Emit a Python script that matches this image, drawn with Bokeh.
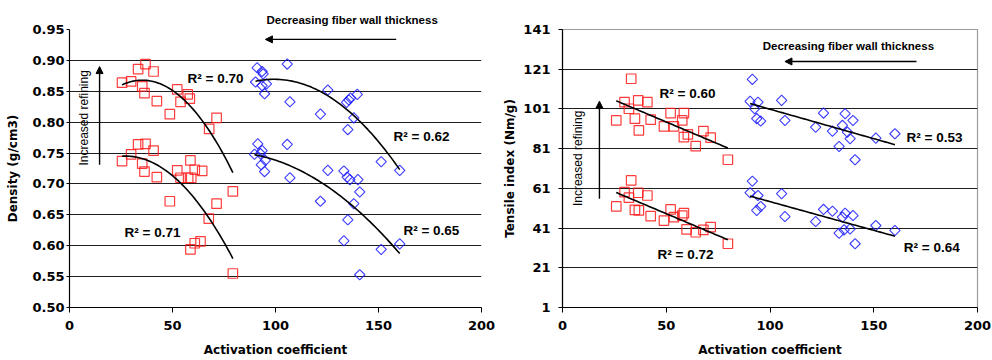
import numpy as np
from bokeh.plotting import figure
from bokeh.layouts import row
from bokeh.models import FixedTicker, PrintfTickFormatter, Label, Arrow, NormalHead, Title
from bokeh.embed import file_html
from bokeh.resources import INLINE

# ---------------- Left chart: density vs activation coefficient ----------------
dens_red_hi_x = [25.5, 29.9, 33.3, 36.9, 40.8, 35.3, 36.4, 42.4, 52.3, 53.9, 57.4, 58.4, 48.7, 67.8, 71.4, 79.3]
dens_red_hi_y = [0.864, 0.866, 0.886, 0.894, 0.882, 0.858, 0.847, 0.834, 0.853, 0.833, 0.845, 0.838, 0.813, 0.789, 0.807, 0.688]
dens_red_lo_x = [25.5, 29.9, 33.3, 36.9, 40.8, 35.3, 36.4, 42.4, 52.3, 58.7, 60.8, 64.4, 53.9, 57.6, 59.1,
                 48.7, 71.4, 67.6, 58.7, 60.8, 63.6, 79.3]
dens_red_lo_y = [0.737, 0.748, 0.764, 0.765, 0.754, 0.733, 0.720, 0.711, 0.722, 0.738, 0.723, 0.721, 0.710, 0.710, 0.710,
                 0.672, 0.668, 0.644, 0.594, 0.604, 0.607, 0.555]
dens_blue_hi_x = [91.1, 93.5, 94.0, 90.3, 93.5, 95.6, 94.7, 105.7, 107.0, 125.4, 121.8, 134.5, 135.6, 136.4, 139.7,
                  138.0, 135.1, 151.3, 160.3]
dens_blue_hi_y = [0.888, 0.882, 0.878, 0.865, 0.859, 0.862, 0.846, 0.894, 0.833, 0.852, 0.813, 0.832, 0.836, 0.839, 0.845,
                  0.807, 0.788, 0.736, 0.722]
dens_blue_lo_x = [91.4, 89.8, 105.7, 93.5, 92.7, 95.1, 93.1, 94.7, 107.0, 125.4, 133.2, 134.8, 136.1, 140.0, 140.9,
                  138.0, 121.8, 135.1, 133.2, 151.3, 160.3, 140.9]
dens_blue_lo_y = [0.765, 0.748, 0.764, 0.754, 0.749, 0.738, 0.731, 0.720, 0.710, 0.722, 0.721, 0.711, 0.707, 0.707, 0.687,
                  0.668, 0.672, 0.642, 0.608, 0.594, 0.603, 0.553]
dens_r2 = ["R\u00b2 = 0.70", "R\u00b2 = 0.71", "R\u00b2 = 0.62", "R\u00b2 = 0.65"]
dens_yticks = [0.50, 0.55, 0.60, 0.65, 0.70, 0.75, 0.80, 0.85, 0.90, 0.95]
xticks = [0, 50, 100, 150, 200]

# ---------------- Right chart: tensile index vs activation coefficient ----------------
ten_red_hi_x = [33.1, 29.9, 32.0, 36.5, 40.9, 25.9, 34.9, 36.8, 42.5, 48.9, 52.1, 53.7, 58.5, 57.7, 58.5, 60.4, 64.2, 67.9, 71.4, 79.7]
ten_red_hi_y = [116.2, 104.4, 101.1, 105.3, 104.4, 95.2, 96.1, 90.2, 95.6, 92.2, 98.9, 92.2, 98.9, 95.2, 86.8, 88.2, 82.3, 89.8, 86.5, 75.4]
ten_red_lo_x = [33.1, 29.9, 32.0, 36.5, 40.9, 25.9, 34.9, 36.8, 42.5, 48.9, 52.1, 53.7, 58.5, 57.7, 59.8, 64.2, 67.9, 71.4, 79.7]
ten_red_lo_y = [65.0, 59.1, 56.3, 58.8, 57.4, 51.9, 50.2, 49.9, 47.0, 44.8, 50.4, 46.5, 48.5, 47.3, 40.3, 38.9, 40.1, 41.5, 33.1]
ten_blue_hi_x = [91.5, 90.4, 94.2, 92.6, 93.6, 95.5, 105.6, 107.2, 125.8, 122.0, 130.1, 136.2, 134.9, 140.0, 137.3, 138.6, 133.3, 141.0, 151.0, 160.2]
ten_blue_hi_y = [115.9, 104.8, 104.4, 101.1, 96.1, 94.9, 105.3, 95.2, 98.9, 91.8, 89.8, 98.6, 92.7, 95.2, 89.3, 86.0, 82.1, 75.4, 86.3, 88.5]
ten_blue_lo_x = [91.5, 90.4, 94.2, 95.5, 93.6, 105.6, 107.2, 125.8, 122.0, 130.1, 136.2, 134.9, 140.0, 138.6, 135.7, 133.3, 141.0, 151.0, 160.2]
ten_blue_lo_y = [64.6, 58.8, 57.4, 51.9, 49.9, 58.3, 46.8, 50.4, 44.3, 49.5, 48.5, 46.5, 47.3, 40.6, 40.1, 38.4, 33.1, 42.3, 39.8]
ten_r2 = ["R\u00b2 = 0.60", "R\u00b2 = 0.72", "R\u00b2 = 0.53", "R\u00b2 = 0.64"]
ten_yticks = [1, 21, 41, 61, 81, 101, 121, 141]

RED = "#ff1a1a"
BLUE = "#1a1aff"
TICK_FONT = "DejaVu Sans"
LAB_FONT = "Liberation Sans"
NOTE = "Decreasing fiber wall thickness"


def style(p, yticks, ylabel, fmt, ytick_out, ystandoff, ylabel_standoff):
    p.xaxis.ticker = FixedTicker(ticks=xticks)
    p.yaxis.ticker = FixedTicker(ticks=yticks)
    p.ygrid.ticker = FixedTicker(ticks=yticks)
    p.yaxis.formatter = PrintfTickFormatter(format=fmt)
    p.xgrid.grid_line_color = None
    p.ygrid.grid_line_color = "#1e1e1e"
    p.ygrid.grid_line_width = 1
    for ax in (p.xaxis, p.yaxis):
        ax.axis_line_color = "black"
        ax.axis_line_width = 1.2
        ax.major_tick_line_color = "black"
        ax.major_tick_in = 0
        ax.minor_tick_line_color = None
        ax.major_label_text_font = TICK_FONT
        ax.major_label_text_font_style = "bold"
        ax.major_label_text_font_size = "13px"
        ax.major_label_text_color = "black"
        ax.axis_label_text_font = TICK_FONT
        ax.axis_label_text_font_style = "bold"
        ax.axis_label_text_font_size = "12px"
        ax.axis_label_text_color = "black"
    p.xaxis.axis_label = "Activation coefficient"
    p.yaxis.axis_label = ylabel
    p.xaxis.major_tick_out = 5
    p.xaxis.major_label_standoff = 8
    p.xaxis.axis_label_standoff = 10
    p.yaxis.major_tick_out = ytick_out
    p.yaxis.major_label_standoff = ystandoff
    p.yaxis.axis_label_standoff = ylabel_standoff
    p.background_fill_color = "white"
    p.border_fill_color = "white"


def scatter_sets(p, sets):
    for xs, ys, kind in sets:
        if kind == "red":
            p.scatter(xs, ys, marker="square", size=9.5, fill_color=None,
                      line_color=RED, line_width=1.2, line_alpha=0.85)
        else:
            p.scatter(xs, ys, marker="square", angle=np.pi / 4, size=7.3, fill_color=None,
                      line_color=BLUE, line_width=1.1, line_alpha=0.85)


def trend(p, xs, ys, deg):
    c = np.polyfit(xs, ys, deg)
    xx = np.linspace(min(xs), max(xs), 60)
    p.line(xx, np.polyval(c, xx), line_color="black", line_width=1.6)


def r2label(p, x, y, text):
    p.add_layout(Label(x=x, y=y, text=text, text_font=LAB_FONT, text_font_style="bold",
                       text_font_size="13.5px", text_color="black",
                       text_align="left", text_baseline="middle"))


def refining_note(p, tx, ty, ax, ay0, ay1):
    p.add_layout(Label(x=tx, y=ty, text="Increased refining", angle=np.pi / 2,
                       text_font=LAB_FONT, text_font_size="12px", text_color="black",
                       text_align="center", text_baseline="middle"))
    p.add_layout(Arrow(end=NormalHead(size=7, fill_color="black", line_color="black"),
                       x_start=ax, y_start=ay0, x_end=ax, y_end=ay1,
                       line_color="black", line_width=1.4))


def wall_arrow(p, hx0, hx1, hy):
    p.add_layout(Arrow(end=NormalHead(size=7, fill_color="black", line_color="black"),
                       x_start=hx0, y_start=hy, x_end=hx1, y_end=hy,
                       line_color="black", line_width=1.4))


# ---------- left figure ----------
p1 = figure(width=496, height=360, x_range=(0, 200), y_range=(0.5, 0.95),
            output_backend="svg", toolbar_location=None,
            min_border_left=69, min_border_right=15, min_border_top=29, min_border_bottom=53)
p1.title = Title(text=NOTE, align="left", offset=197, standoff=8,
                 text_font=LAB_FONT, text_font_style="bold", text_font_size="11.5px",
                 text_color="black")
style(p1, dens_yticks, "Density (g/cm3)", "%.2f", 3, 2, 9)
p1.outline_line_color = None
scatter_sets(p1, [(dens_red_hi_x, dens_red_hi_y, "red"), (dens_red_lo_x, dens_red_lo_y, "red"),
                  (dens_blue_hi_x, dens_blue_hi_y, "blue"), (dens_blue_lo_x, dens_blue_lo_y, "blue")])
trend(p1, dens_red_hi_x, dens_red_hi_y, 2)
trend(p1, dens_red_lo_x, dens_red_lo_y, 2)
trend(p1, dens_blue_hi_x, dens_blue_hi_y, 2)
trend(p1, dens_blue_lo_x, dens_blue_lo_y, 2)
r2label(p1, 57.3, 0.871, dens_r2[0])
r2label(p1, 26.7, 0.622, dens_r2[1])
r2label(p1, 157.3, 0.777, dens_r2[2])
r2label(p1, 162.1, 0.625, dens_r2[3])
refining_note(p1, 6.8, 0.807, 14.6, 0.731, 0.890)
wall_arrow(p1, 158.6, 95.1, 0.934)

# ---------- right figure ----------
p2 = figure(width=496, height=360, x_range=(0, 200), y_range=(1, 141),
            output_backend="svg", toolbar_location=None,
            min_border_left=66, min_border_right=15, min_border_top=29, min_border_bottom=53)
style(p2, ten_yticks, "Tensile index (Nm/g)", "%d", 4, 8, 3)
p2.outline_line_color = "#9a9a9a"
p2.outline_line_width = 1.2
scatter_sets(p2, [(ten_red_hi_x, ten_red_hi_y, "red"), (ten_red_lo_x, ten_red_lo_y, "red"),
                  (ten_blue_hi_x, ten_blue_hi_y, "blue"), (ten_blue_lo_x, ten_blue_lo_y, "blue")])
trend(p2, ten_red_hi_x, ten_red_hi_y, 1)
trend(p2, ten_red_lo_x, ten_red_lo_y, 1)
trend(p2, ten_blue_hi_x, ten_blue_hi_y, 1)
trend(p2, ten_blue_lo_x, ten_blue_lo_y, 1)
r2label(p2, 46.8, 108.8, ten_r2[0])
r2label(p2, 45.8, 27.7, ten_r2[1])
r2label(p2, 165.8, 86.8, ten_r2[2])
r2label(p2, 164.5, 31.1, ten_r2[3])
refining_note(p2, 7.4, 76.1, 17.8, 55.8, 104.9)
p2.add_layout(Label(x=96.5, y=132.5, text=NOTE, text_font=LAB_FONT, text_font_style="bold",
                    text_font_size="11.5px", text_color="black",
                    text_align="left", text_baseline="middle"))
wall_arrow(p2, 170.6, 107.2, 124.9)

layout = row(p1, p2)
open("out.html", "w").write(file_html(layout, INLINE))
